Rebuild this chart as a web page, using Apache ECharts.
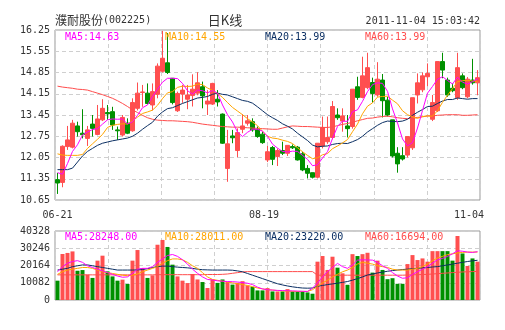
<!DOCTYPE html>
<html><head><meta charset="utf-8">
<script src="https://cdn.jsdelivr.net/npm/echarts@6/dist/echarts.min.js"></script>
<style>html,body{margin:0;padding:0;background:#fff}#c{width:505px;height:330px}</style>
</head><body><div id="c"></div>
<script>
// ---------- data ----------
const stockName = '濮耐股份';
const stockCode = '(002225)';
const chartTitle = '日K线';
const timestamp = '2011-11-04 15:03:42';

const dates = ['06-21','06-22','06-23','06-24','06-27','06-28','06-29','06-30',
'07-04','07-05','07-06','07-07','07-08','07-11','07-12','07-13','07-14','07-15','07-18','07-19','07-20','07-21','07-22','07-25','07-26','07-27','07-28','07-29',
'08-01','08-02','08-03','08-04','08-05','08-08','08-09','08-10','08-11','08-12','08-15','08-16','08-17','08-18','08-19',
'08-22','08-23','08-24','08-25','08-26','08-29','08-30','08-31','09-01','09-02','09-15','09-16','09-19','09-20','09-21','09-22','09-23','09-26','09-27','09-28','09-29','09-30',
'10-10','10-11','10-12','10-13','10-14','10-17','10-18','10-19','10-20','10-21','10-24','10-25','10-26','10-27','10-28','10-31','11-01','11-02','11-03','11-04'];

const opens  = [11.32,11.23,12.41,12.39,13.09,12.85,12.68,13.15,12.81,13.29,13.53,13.56,12.96,12.79,13.18,12.93,13.67,14.19,14.17,13.78,14.13,14.89,15.17,14.66,13.59,14.14,13.97,14.09,14.17,14.38,13.81,13.81,13.97,13.48,11.69,12.76,12.28,12.98,13.18,13.23,12.98,12.82,11.97,12.38,12.08,12.28,12.19,12.41,12.39,12.17,11.69,11.55,11.40,12.43,12.57,12.71,13.45,13.25,13.09,13.07,14.38,14.03,14.35,14.52,14.11,14.60,13.94,13.29,12.19,12.11,12.13,12.37,14.11,14.28,14.71,13.31,13.59,15.21,14.60,14.33,14.02,14.74,14.05,14.60,14.51];
const closes = [11.21,12.42,12.63,13.18,12.90,12.80,12.96,13.01,13.32,13.67,13.49,13.12,12.93,13.37,12.85,13.86,14.17,14.21,13.83,14.22,15.06,15.32,14.85,13.86,14.16,14.27,14.11,14.30,14.51,14.08,13.91,14.49,13.88,12.52,12.50,12.70,12.87,13.09,13.26,12.96,12.74,12.54,12.24,11.99,12.28,12.19,12.45,12.37,11.97,11.64,11.53,11.40,12.52,13.04,12.71,13.73,13.36,13.42,13.00,14.30,14.03,14.74,15.01,14.16,14.63,13.92,13.45,12.10,11.84,12.00,12.74,14.02,14.51,14.74,14.82,13.86,15.21,14.93,14.11,14.25,15.01,14.35,14.63,14.51,14.68];
const lows   = [10.85,11.07,12.30,12.35,12.74,12.68,12.43,12.74,12.78,13.25,13.29,12.96,12.63,12.74,12.82,12.90,13.60,13.72,13.80,13.60,14.00,14.85,14.80,13.80,13.55,13.85,13.64,13.73,14.10,13.67,13.45,13.78,13.73,12.50,11.25,12.52,12.06,12.85,13.10,12.90,12.70,12.50,11.90,11.80,11.77,12.13,12.10,12.33,11.95,11.60,11.36,11.36,11.36,12.35,12.50,12.65,13.29,12.90,12.71,13.00,13.95,14.00,14.30,13.86,14.05,13.37,13.40,12.05,11.55,11.95,12.05,12.30,13.83,14.20,14.40,13.25,13.55,14.66,14.05,14.20,13.95,14.30,14.00,14.45,14.10];
const highs  = [11.54,12.45,13.09,13.29,13.23,13.64,13.09,13.45,13.78,13.97,13.78,13.72,13.07,13.45,13.34,14.00,14.52,14.44,14.49,14.49,15.15,16.22,16.15,14.66,14.22,14.44,14.44,14.79,14.86,14.55,14.27,14.51,14.27,13.50,12.96,12.96,13.01,13.48,13.45,13.34,13.07,12.90,12.43,12.43,12.35,12.57,12.45,12.48,12.43,12.24,11.80,11.55,12.52,13.40,13.40,13.91,13.67,13.67,13.45,14.30,14.71,15.37,15.50,14.68,15.19,14.80,14.05,13.29,12.39,12.39,12.74,14.02,14.82,14.85,15.15,14.11,15.21,15.50,14.68,14.49,15.50,14.82,14.70,15.30,14.93];

const ma5  = [11.55,11.50,11.85,12.25,12.47,12.79,12.89,12.97,13.00,13.15,13.29,13.32,13.31,13.32,13.15,13.23,13.44,13.69,13.78,14.06,14.30,14.53,14.66,14.66,14.65,14.49,14.25,14.14,14.27,14.25,14.18,14.26,14.17,13.78,13.46,13.22,12.89,12.74,12.88,12.98,12.98,12.92,12.75,12.49,12.36,12.25,12.23,12.26,12.25,12.12,11.99,11.78,11.81,12.03,12.24,12.68,13.07,13.25,13.24,13.56,13.62,13.90,14.22,14.45,14.51,14.49,14.23,13.65,13.19,12.66,12.43,12.54,13.02,13.60,14.17,14.39,14.63,14.71,14.59,14.47,14.70,14.53,14.47,14.55,14.64];
const ma10 = [12.17,12.13,12.12,12.12,12.12,12.15,12.35,12.50,12.65,12.81,13.04,13.11,13.14,13.16,13.15,13.26,13.38,13.50,13.55,13.61,13.77,13.99,14.18,14.22,14.36,14.40,14.39,14.40,14.47,14.45,14.34,14.26,14.16,14.03,13.86,13.70,13.58,13.46,13.33,13.22,13.10,12.91,12.75,12.69,12.67,12.62,12.58,12.51,12.37,12.24,12.12,12.01,12.04,12.14,12.18,12.34,12.43,12.53,12.64,12.90,13.15,13.49,13.74,13.85,14.04,14.06,14.07,13.94,13.82,13.59,13.46,13.39,13.34,13.40,13.42,13.41,13.59,13.87,14.10,14.32,14.55,14.58,14.59,14.57,14.56];
const ma20 = [11.65,11.65,11.65,11.70,11.90,12.10,12.25,12.35,12.45,12.52,12.56,12.60,12.63,12.66,12.69,12.75,12.85,12.98,13.10,13.21,13.41,13.55,13.66,13.69,13.76,13.83,13.89,13.95,14.01,14.03,14.06,14.13,14.17,14.13,14.11,14.05,13.99,13.93,13.90,13.84,13.72,13.59,13.46,13.36,13.27,13.16,13.08,12.99,12.85,12.73,12.61,12.46,12.40,12.42,12.43,12.48,12.51,12.52,12.51,12.57,12.64,12.75,12.89,13.00,13.11,13.20,13.25,13.24,13.23,13.25,13.31,13.44,13.54,13.63,13.73,13.74,13.83,13.91,13.96,13.96,14.01,13.99,13.97,13.99,13.99];
const ma60 = [14.40,14.37,14.35,14.33,14.30,14.29,14.27,14.22,14.17,14.12,14.06,14.00,13.92,13.83,13.73,13.62,13.53,13.44,13.36,13.31,13.28,13.27,13.26,13.26,13.25,13.24,13.23,13.21,13.18,13.15,13.13,13.11,13.09,13.07,13.06,13.05,13.05,13.04,13.03,13.02,13.01,13.00,12.99,12.98,12.98,13.02,13.06,13.09,13.08,13.07,13.07,13.06,13.05,13.04,13.04,13.06,13.10,13.14,13.17,13.21,13.26,13.30,13.34,13.35,13.38,13.40,13.41,13.39,13.36,13.34,13.33,13.34,13.37,13.39,13.42,13.42,13.44,13.45,13.46,13.46,13.46,13.44,13.44,13.45,13.46];

const volumes = [11300,26900,27500,28400,17100,17500,14800,12900,23000,25900,16750,13800,11300,11900,9350,23000,29200,18700,12900,14400,32300,35100,31000,20650,13800,11300,9900,15200,12000,10500,7000,12000,10000,12000,10500,9000,10000,11000,8500,7700,5600,5600,6950,5000,5000,5000,6370,5000,5000,5000,4440,3670,22400,25700,17560,25300,18900,15600,8880,26800,25700,26800,27600,16000,23000,17560,12160,12740,9460,9460,21000,26250,23350,24300,22400,28560,28560,28560,28560,23000,37400,27200,19900,24300,22400];
const volMa5  = [16500,19500,21500,22500,23000,22000,20000,19000,18000,17000,16000,15000,14000,13300,13500,15500,18000,18500,18500,19500,22000,24000,26000,26600,25500,23500,21000,18000,15600,13500,12000,11700,11200,11000,10800,10700,10500,10200,9800,9000,7500,6500,6000,5800,5600,5500,5400,5300,5200,5100,5000,6900,10000,13500,16600,19000,21400,19500,18500,20500,23300,23500,23400,23300,22000,20000,18500,16000,14000,12700,13000,15000,16500,18000,19500,21500,23500,24300,25500,27000,28760,28500,28000,27800,28248];
const volMa10 = [15000,16500,17500,18000,18500,19000,19000,18500,17500,16500,16000,15500,15000,14500,14200,14500,15200,16500,17500,18500,19500,21500,23000,24000,24000,23500,22000,20000,18500,16000,13500,12000,11500,11000,10500,10000,9500,9000,8500,7800,7000,6500,6000,5800,5500,5300,5200,5100,5000,5000,5000,6000,8000,10000,11500,13500,15000,16500,17500,19000,21000,22000,21500,21000,20000,19500,19000,18000,17500,17500,17500,18000,18500,19500,21000,23000,24500,25500,26500,27000,27500,27800,28000,28000,28011];
const volMa20 = [17500,18000,18500,19500,20000,20500,20500,20000,19500,19000,18500,18000,17500,17500,17500,17500,17600,17800,18300,19000,19500,19800,19800,19500,19200,19000,18800,18500,18000,17700,17600,17500,17500,17500,17500,17400,17000,16500,15500,14500,13500,12500,11500,10500,9500,8800,8200,7700,7300,7000,6900,7000,8000,8500,9000,9400,9800,10300,10800,11600,12500,13500,14600,15200,15800,16300,16800,17200,17500,17800,18000,18300,18500,18800,19000,19300,19500,20000,20500,21000,21500,22000,22500,22900,23220];
const volMa60 = [14700,14700,14700,14700,14700,14700,14700,14700,14700,14700,14700,14700,14700,14700,14700,14700,14700,14700,14700,14700,14800,14800,14800,14800,14800,14800,14800,14800,14800,14800,14900,14900,14900,15000,15200,15600,16000,16400,16600,16600,16600,16600,16600,16600,16600,16600,16600,16600,16600,16600,16600,16600,14500,14500,14500,14500,14500,14500,14500,14500,14500,14500,14500,14500,14500,14500,14500,14500,14500,14500,14600,14700,14800,14900,15000,15200,15400,15600,15800,16000,16200,16400,16500,16600,16694];

const priceTicks = {min: 10.65, max: 16.25, step: 0.70};
const volTicks = {min: 0, max: 40328, step: 10082};
const maNames = ['MA5','MA10','MA20','MA60'];
const priceLegendVals = ['14.63','14.55','13.99','13.99'];
const volLegendVals = ['28248.00','28011.00','23220.00','16694.00'];
const xLabelIdx = [0, 42, 84];

// ---------- chart ----------
const upColor = '#ff4f4f', downColor = '#009000';
const maColors = ['#ff00ff','#ffa500','#0b2f63','#ff4c4c'];
const mono = '"DejaVu Sans Mono", monospace';
const gridLine = {show:true, lineStyle:{color:'#cfcfcf', type:[4,3], width:1}};

const candle = dates.map((d,i)=>[opens[i], closes[i], lows[i], highs[i]]);
const volData = volumes.map((v,i)=>({value:v, itemStyle:{color: closes[i] >= opens[i] ? upColor : downColor}}));

const lineSeries = (data, color, xi, yi) => ({type:'line', data, xAxisIndex:xi, yAxisIndex:yi,
  symbol:'none', showSymbol:false, lineStyle:{width:1, color}, itemStyle:{color}, z:5, silent:true});

const legendEls = [];
maNames.forEach((n,i)=>{
  legendEls.push({type:'text', x:65+100*i, y:37, style:{text:n+':'+priceLegendVals[i], fill:maColors[i], font:'10px '+mono, verticalAlign:'middle'}, z:100});
  legendEls.push({type:'text', x:65+100*i, y:237, style:{text:n+':'+volLegendVals[i], fill:maColors[i], font:'10px '+mono, verticalAlign:'middle'}, z:100});
});

const option = {
  animation:false,
  backgroundColor:'#fff',
  grid:[
    {left:55, top:30, width:425, height:170, show:true, borderColor:'#999', borderWidth:1, backgroundColor:'transparent'},
    {left:55, top:231, width:425, height:69, show:true, borderColor:'#999', borderWidth:1, backgroundColor:'transparent'}
  ],
  xAxis:[
    {type:'category', gridIndex:0, data:dates, boundaryGap:true,
     axisLine:{show:false}, axisTick:{show:false}, splitLine:{show:false},
     axisLabel:{interval:(idx)=>xLabelIdx.includes(idx), color:'#333', fontFamily:mono, fontSize:10, margin:10,
       formatter:(v, idx)=> idx===xLabelIdx[0] ? '{l|'+v+'}' : (idx===xLabelIdx[1] ? '{m|'+v+'}' : '{r|'+v+'}'),
       rich:{l:{fontFamily:mono, fontSize:10, color:'#333'}, m:{fontFamily:mono, fontSize:10, color:'#333', padding:[0,7,0,0]}, r:{fontFamily:mono, fontSize:10, color:'#333', padding:[0,17,0,0]}}}},
    {type:'category', gridIndex:1, data:dates, boundaryGap:true,
     axisLine:{show:false}, axisTick:{show:false}, axisLabel:{show:false}, splitLine:{show:false}},
    {type:'value', gridIndex:0, min:0, max:8, interval:1, axisLine:{show:false}, axisTick:{show:false}, axisLabel:{show:false}, splitLine:gridLine},
    {type:'value', gridIndex:1, min:0, max:8, interval:1, axisLine:{show:false}, axisTick:{show:false}, axisLabel:{show:false}, splitLine:gridLine}
  ],
  yAxis:[
    {type:'value', gridIndex:0, min:priceTicks.min, max:priceTicks.max, interval:priceTicks.step, scale:true,
     axisLine:{show:false}, axisTick:{show:false}, splitLine:gridLine,
     axisLabel:{formatter:(v)=>v.toFixed(2), color:'#333', fontFamily:mono, fontSize:10, margin:5}},
    {type:'value', gridIndex:1, min:volTicks.min, max:volTicks.max, interval:volTicks.step,
     axisLine:{show:false}, axisTick:{show:false}, splitLine:gridLine,
     axisLabel:{formatter:(v)=>String(Math.round(v)), color:'#333', fontFamily:mono, fontSize:10, margin:5}}
  ],
  series:[
    {type:'candlestick', data:candle, xAxisIndex:0, yAxisIndex:0, barWidth:4, silent:true,
     itemStyle:{color:upColor, color0:downColor, borderColor:upColor, borderColor0:downColor, borderWidth:1}},
    lineSeries(ma60, maColors[3], 0, 0),
    lineSeries(ma20, maColors[2], 0, 0),
    lineSeries(ma10, maColors[1], 0, 0),
    lineSeries(ma5, maColors[0], 0, 0),
    {type:'bar', data:volData, xAxisIndex:1, yAxisIndex:1, barWidth:4, silent:true},
    lineSeries(volMa60, maColors[3], 1, 1),
    lineSeries(volMa20, maColors[2], 1, 1),
    lineSeries(volMa10, maColors[1], 1, 1),
    lineSeries(volMa5, maColors[0], 1, 1)
  ],
  graphic:[
    {type:'text', x:55, y:20, style:{text:'{n|'+stockName+'}{c|'+stockCode+'}', verticalAlign:'middle',
      rich:{n:{fontFamily:'"Noto Sans CJK SC"', fontSize:12, fill:'#333'}, c:{fontFamily:mono, fontSize:10, fill:'#333'}}}},
    {type:'text', x:225, y:20, style:{text:chartTitle, fill:'#333', font:'13px "Noto Sans CJK SC"', align:'center', verticalAlign:'middle'}},
    {type:'text', x:480, y:21, style:{text:timestamp, fill:'#333', font:'10px '+mono, align:'right', verticalAlign:'middle'}},
    ...legendEls
  ]
};
const chart = echarts.init(document.getElementById('c'));
chart.setOption(option);
</script></body></html>
